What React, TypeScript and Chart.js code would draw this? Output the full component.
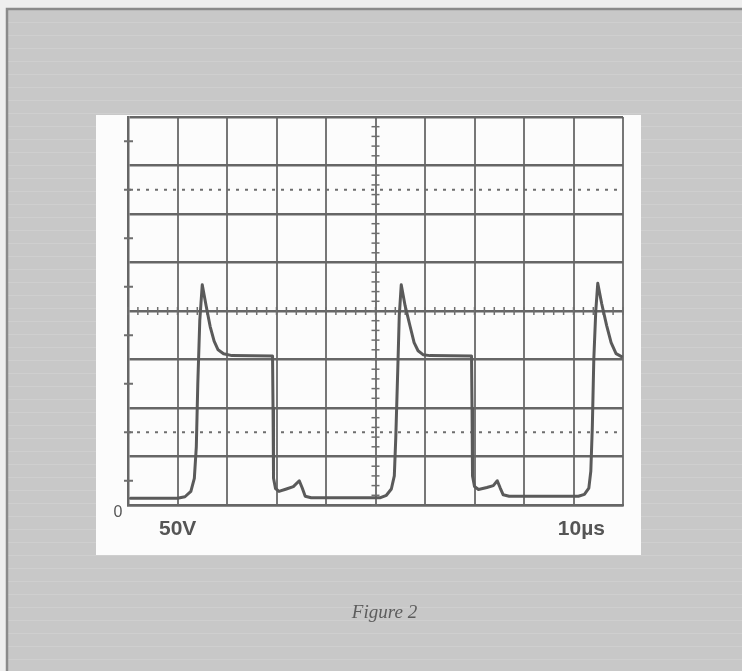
import React, { useEffect, useRef } from "react";
import { Chart, registerables } from "chart.js";

Chart.register(...registerables);

// Oscilloscope trace in screen divisions
// (x: 10 µs per division, y: 50 V per division, 0 = ground line)
const traceTime = [
  0.05, 1.0, 1.15, 1.27, 1.34, 1.38, 1.41, 1.45, 1.5, 1.58, 1.66, 1.74, 1.82, 1.93, 2.1, 2.92,
  2.93, 2.94, 2.98, 3.05, 3.2, 3.34, 3.46, 3.52, 3.58, 3.7, 5.1, 5.22, 5.32, 5.38, 5.41, 5.45,
  5.48, 5.52, 5.6, 5.7, 5.78, 5.86, 5.96, 6.1, 6.94, 6.95, 6.96, 7.0, 7.08, 7.25, 7.38, 7.46,
  7.52, 7.58, 7.7, 9.1, 9.22, 9.31, 9.35, 9.38, 9.41, 9.45, 9.49, 9.57, 9.67, 9.76, 9.86, 9.97,
];
const traceVolt = [
  0.14, 0.14, 0.17, 0.28, 0.55, 1.2, 2.5, 3.8, 4.54, 4.1, 3.68, 3.38, 3.2, 3.12, 3.08, 3.07,
  2.0, 0.55, 0.34, 0.28, 0.33, 0.38, 0.5, 0.35, 0.18, 0.15, 0.15, 0.2, 0.33, 0.6, 1.4, 2.8,
  3.9, 4.54, 4.1, 3.68, 3.35, 3.18, 3.1, 3.08, 3.07, 2.0, 0.6, 0.38, 0.32, 0.36, 0.4, 0.5,
  0.35, 0.21, 0.18, 0.18, 0.22, 0.35, 0.7, 1.6, 3.0, 4.0, 4.57, 4.15, 3.7, 3.35, 3.12, 3.06,
];

const xDivisions = 10;
const yDivisions = 8;
const markerLevels = [1.5, 6.5];
const groundLabel = "0";
const voltsLabel = "50V";
const timeLabel = "10µs";
const caption = "Figure 2";

const scopeDecor = {
  id: "scopeDecor",
  beforeDraw(chart: any) {
    const { ctx, width, height, chartArea: a } = chart;
    ctx.save();
    ctx.fillStyle = "#eeeeee";
    ctx.fillRect(0, 0, width, height);
    ctx.fillStyle = "#c8c8c8";
    ctx.fillRect(7, 9, width - 7, height - 9);
    ctx.strokeStyle = "#cfcfcf";
    ctx.lineWidth = 1;
    for (let yy = 22; yy < height; yy += 13) {
      ctx.beginPath();
      ctx.moveTo(8, yy + 0.5);
      ctx.lineTo(width, yy + 0.5);
      ctx.stroke();
    }
    ctx.strokeStyle = "#8a8a8a";
    ctx.lineWidth = 2.5;
    ctx.beginPath();
    ctx.moveTo(7, height);
    ctx.lineTo(7, 9);
    ctx.lineTo(width, 9);
    ctx.stroke();
    ctx.fillStyle = "#fcfcfc";
    ctx.fillRect(a.left - 32, a.top - 2, a.right - a.left + 50, a.bottom - a.top + 52);
    ctx.restore();
  },
  beforeDatasetsDraw(chart: any) {
    const { ctx, chartArea: a, scales } = chart;
    const xs = scales.x;
    const ys = scales.y;
    ctx.save();
    ctx.strokeStyle = "#6e6e6e";
    ctx.lineWidth = 2;
    // dotted rise-time marker lines
    ctx.setLineDash([3, 6]);
    markerLevels.forEach((lv) => {
      const py = ys.getPixelForValue(lv);
      ctx.beginPath();
      ctx.moveTo(a.left, py);
      ctx.lineTo(a.right, py);
      ctx.stroke();
    });
    ctx.setLineDash([]);
    // center graticule minor ticks
    const cy = ys.getPixelForValue(yDivisions / 2);
    const cx = xs.getPixelForValue(xDivisions / 2);
    ctx.lineWidth = 1.5;
    for (let v = 0; v <= xDivisions; v += 0.2) {
      const px = xs.getPixelForValue(v);
      ctx.beginPath();
      ctx.moveTo(px, cy - 4);
      ctx.lineTo(px, cy + 4);
      ctx.stroke();
    }
    for (let v = 0; v <= yDivisions; v += 0.2) {
      const py = ys.getPixelForValue(v);
      ctx.beginPath();
      ctx.moveTo(cx - 4, py);
      ctx.lineTo(cx + 4, py);
      ctx.stroke();
    }
    // left edge half-division ticks
    ctx.lineWidth = 2;
    for (let v = 0.5; v < yDivisions; v += 1) {
      const py = ys.getPixelForValue(v);
      ctx.beginPath();
      ctx.moveTo(a.left - 4, py);
      ctx.lineTo(a.left + 5, py);
      ctx.stroke();
    }
    ctx.restore();
  },
  afterDraw(chart: any) {
    const { ctx, chartArea: a } = chart;
    ctx.save();
    ctx.fillStyle = "#555555";
    ctx.textBaseline = "alphabetic";
    ctx.font = "16px 'Liberation Sans', Arial, sans-serif";
    ctx.textAlign = "center";
    ctx.fillText(groundLabel, a.left - 10, a.bottom + 12);
    ctx.font = "bold 21px 'Liberation Sans', Arial, sans-serif";
    ctx.textAlign = "left";
    ctx.fillText(voltsLabel, a.left + 31, a.bottom + 30);
    ctx.textAlign = "right";
    ctx.fillText(timeLabel, a.right - 18, a.bottom + 30);
    ctx.font = "italic 19px 'Liberation Serif', 'DejaVu Serif', serif";
    ctx.fillStyle = "#5c5c5c";
    ctx.textAlign = "center";
    ctx.fillText(caption, (a.left + a.right) / 2 + 9, a.bottom + 113);
    ctx.restore();
  },
};

export default function App() {
  const ref = useRef<HTMLCanvasElement | null>(null);
  useEffect(() => {
    if (!ref.current) return;
    const points = traceTime.map((t, i) => ({ x: t, y: traceVolt[i] }));
    const chart = new Chart(ref.current, {
      type: "scatter",
      data: {
        datasets: [
          {
            data: points,
            showLine: true,
            borderColor: "#5a5a5a",
            borderWidth: 3,
            pointRadius: 0,
            tension: 0,
            borderJoinStyle: "round",
            borderCapStyle: "round",
          } as any,
        ],
      },
      options: {
        responsive: false,
        animation: false,
        layout: { padding: { left: 128, top: 117, right: 119, bottom: 166 } },
        plugins: { legend: { display: false }, tooltip: { enabled: false } },
        scales: {
          x: {
            type: "linear",
            min: 0,
            max: xDivisions,
            ticks: { display: false, stepSize: 1 },
            grid: { color: "#777777", lineWidth: 2, drawTicks: false },
            border: { display: true, color: "#666666", width: 2.5 },
          },
          y: {
            type: "linear",
            min: 0,
            max: yDivisions,
            ticks: { display: false, stepSize: 1 },
            grid: { color: "#666666", lineWidth: 2.5, drawTicks: false },
            border: { display: true, color: "#666666", width: 2.5 },
          },
        },
      },
      plugins: [scopeDecor],
    });
    return () => chart.destroy();
  }, []);
  return (
    <div style={{ position: "absolute", left: 0, top: 0, width: 742, height: 671 }}>
      <canvas ref={ref} width={742} height={671} />
    </div>
  );
}
